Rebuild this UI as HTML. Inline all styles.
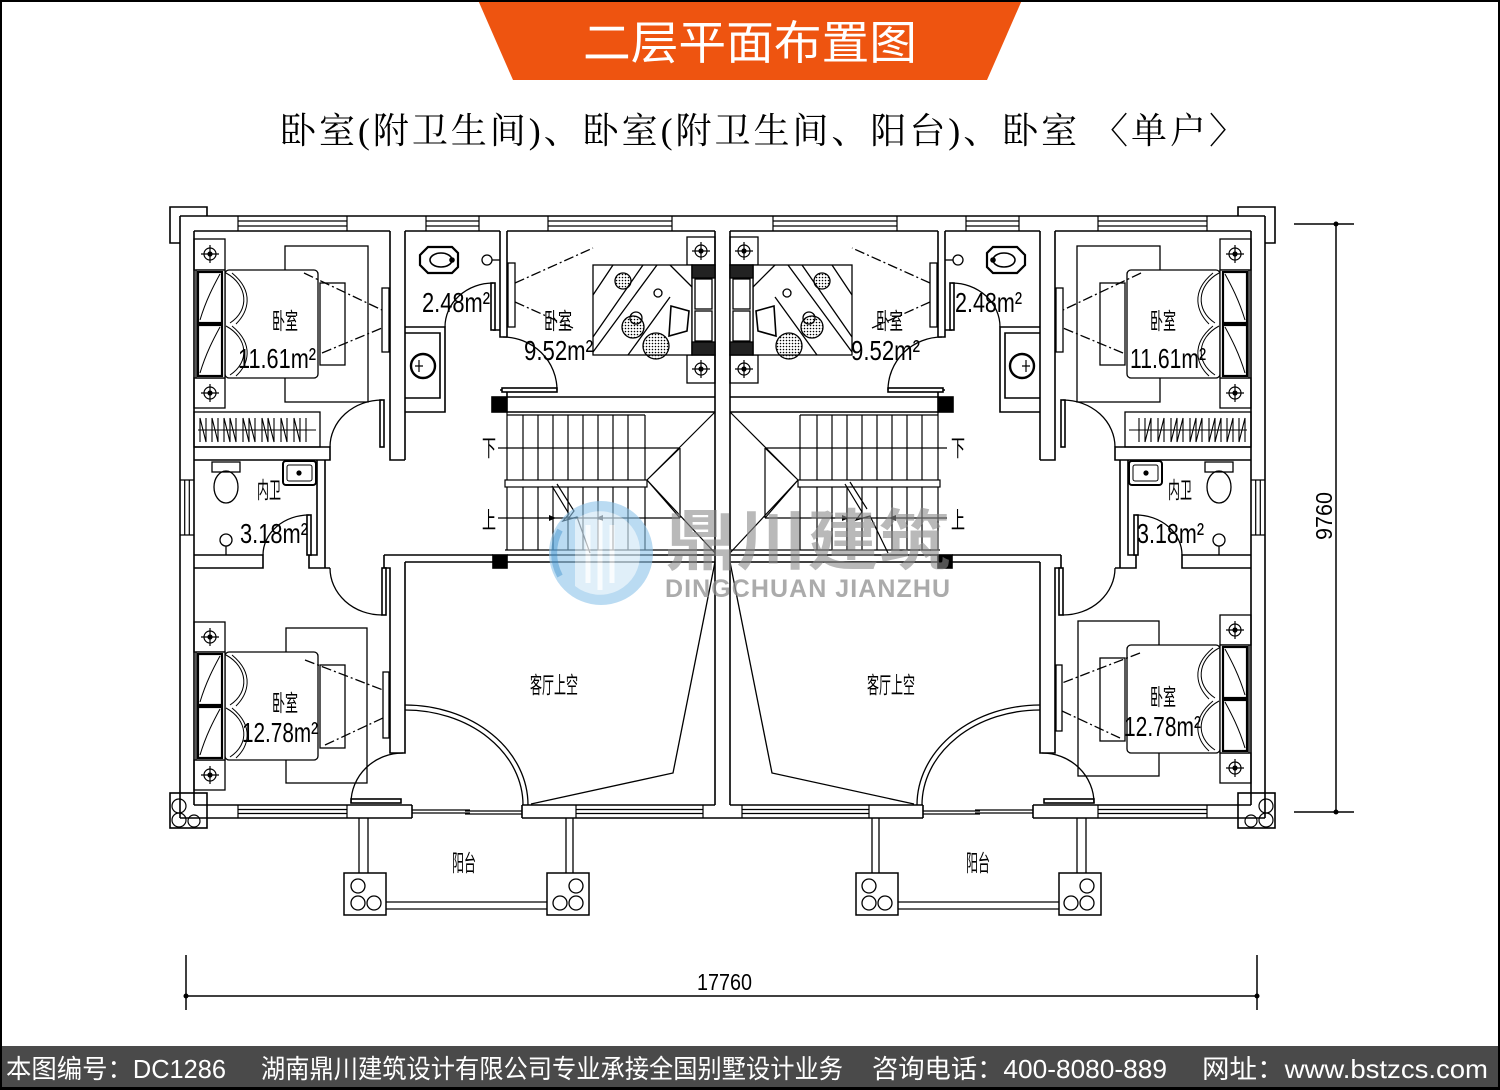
<!DOCTYPE html>
<html><head><meta charset="utf-8">
<style>
html,body{margin:0;padding:0;background:#fff;}
svg{display:block;}
</style></head>
<body>
<svg width="1500" height="1090" viewBox="0 0 1500 1090" xmlns="http://www.w3.org/2000/svg">
<defs>
<pattern id="dots" width="3" height="3" patternUnits="userSpaceOnUse"><circle cx="1.5" cy="1.5" r="0.8" fill="#000"/></pattern>
<g id="tg" fill="none" stroke="#000" stroke-width="1.2"><circle r="6"/><circle r="2" fill="#000"/><path d="M-9,0H9M0,-9V9"/></g>
</defs>
<rect width="1500" height="1090" fill="#fff"/>

<!-- banner -->
<polygon points="478,0 1022,0 987,80 513,80" fill="#ee5410"/>
<text x="750" y="59" font-size="46" fill="#fff" text-anchor="middle" textLength="334" lengthAdjust="spacingAndGlyphs" font-family="'Liberation Sans','Noto Sans CJK SC',sans-serif">二层平面布置图</text>
<text x="280" y="143" font-size="36" fill="#000" textLength="965" lengthAdjust="spacing" font-family="'Liberation Serif','Noto Serif CJK SC',serif">卧室(附卫生间)、卧室(附卫生间、阳台)、卧室 〈单户〉</text>

<!-- LEFT UNIT -->
<g id="L" fill="none" stroke="#000" stroke-width="1.6">
 <path d="M180,243H170V207H207V216"/>
 <rect x="170" y="793" width="37" height="35" fill="#fff"/>
 <circle cx="179" cy="806" r="7" stroke-width="1.2"/><circle cx="179" cy="820" r="7" stroke-width="1.2"/><circle cx="194" cy="821" r="6" stroke-width="1.2"/>
 <path d="M180,216H722.5M180,216V818M180,818H412M522,818H722.5"/>
 <path d="M194,231H390M405,231H500M507,231H715M194,231V805M194,805H412M522,805H715M412,805V818M522,805V818M715,231V805"/>
 <path stroke-width="1.2" d="M238,216V231M347,216V231M238,221H347M238,226H347M426,216V231M479,216V231M426,221H479M426,226H479M548,216V231M672,216V231M548,221H672M548,226H672M238,805V818M347,805V818M238,809.5H347M238,813.5H347M576,805V818M703,805V818M576,809.5H703M576,813.5H703M180,480H194M180,535H194M184.7,480V535M189.3,480V535"/>
 <path stroke-width="1.2" d="M412,810H470M412,813H470M465,811H522M465,814H522"/>
 <!-- interior walls -->
 <path d="M390,231V460H405M405,231V460"/>
 <path d="M194,447H330V460H194"/>
 <path d="M405,327H445V412H405M405,333H440V398H405"/>
 <path d="M493,330H500M500,231V337H507M507,231V337M500,390H507V397"/>
 <path d="M507,397H715M507,412H715"/>
 <rect x="492" y="397" width="15" height="15" fill="#000"/>
 <rect x="493" y="555" width="14" height="13" fill="#000"/>
 <path d="M317,460V555H309V568H330M325,460V568M194,555H263V568H194"/>
 <path d="M384,555V568H390V753H405V562M384,555H493M405,562H493M507,555H715M507,562H715"/>
 <!-- stair -->
 <g stroke-width="1.2">
  <path d="M507,412V550M523,415V550M538,415V550M553,415V550M568,415V550M583,415V550M598,415V550M613,415V550M628,415V550M645,415V550"/>
  <path d="M507,415H645M505,550H715"/>
  <rect x="505" y="480" width="142" height="7" fill="#fff"/>
  <path d="M498,448H680M498,518H680"/>
  <path d="M715,412L647,480L715,553M680,448L647,480L680,518M680,448V518"/>
 </g>
 <!-- void & doors -->
 <path stroke-width="1.3" d="M715,562L673,773L531,804"/>
 <path stroke-width="1.3" d="M405,705A123,100 0 0 1 528,805M405,710A118,95 0 0 1 523,805"/>
 <rect x="380" y="400" width="4" height="47" fill="#fff"/>
 <path stroke-width="1.3" d="M382,400A52,47 0 0 0 330,447"/>
 <rect x="491" y="283" width="4" height="47" fill="#fff"/>
 <path stroke-width="1.3" d="M493,283A48,44 0 0 0 445,327"/>
 <rect x="502" y="388" width="55" height="4" fill="#fff"/>
 <path stroke-width="1.3" d="M503,337A54,53 0 0 1 557,390"/>
 <rect x="307" y="515" width="4" height="40" fill="#fff"/>
 <path stroke-width="1.3" d="M309,515A46,40 0 0 0 263,555"/>
 <rect x="382" y="568" width="4" height="47" fill="#fff"/>
 <path stroke-width="1.3" d="M330,568A52,47 0 0 0 382,615"/>
 <rect x="351" y="799" width="50" height="4" fill="#fff"/>
 <path stroke-width="1.3" d="M403,753A52,50 0 0 0 351,803"/>
 <!-- bedroom 1 furniture -->
 <g stroke-width="1.3">
  <rect x="194" y="239" width="31" height="31"/>
  <rect x="194" y="378" width="31" height="30"/>
  <rect x="285" y="246" width="83" height="156"/>
  <rect x="320" y="283" width="25" height="82"/>
  <rect x="225" y="270" width="93" height="108" rx="4" fill="#fff"/>
  <rect x="196" y="270" width="29" height="108" fill="#fff"/>
  <rect x="198" y="272" width="24" height="51" stroke-width="2.2"/>
  <rect x="198" y="325" width="24" height="51" stroke-width="2.2"/>
  <path stroke-width="1" d="M226,273C248,285 250,310 230,323M232,273C255,292 248,312 236,324M226,326C248,338 250,362 230,375M232,326C255,345 248,365 236,376M200,320C206,300 214,285 220,274M200,373C206,353 214,338 220,327"/>
  <rect x="382" y="288" width="7" height="64" fill="#fff"/>
  <path stroke-dasharray="10 3 2 3" d="M304,273L382,310M322,353L382,328"/>
  <rect x="194" y="412" width="126" height="35"/>
  <path stroke-width="1.1" d="M198,430H316M200,442V418L206,442V418M212,442V418L218,442V418M224,442V418L230,442V418L236,442V418M243,442V418L249,442V418L255,442V418M262,442V418L268,442V418L274,442V418M281,442V418L287,442V418M294,442V418L300,442V418M306,442V418"/>
 </g>
 <use href="#tg" x="210" y="254"/><use href="#tg" x="210" y="393"/>
 <!-- bedroom 2 furniture -->
 <g stroke-width="1.3">
  <rect x="687" y="237" width="28" height="28"/>
  <rect x="687" y="355" width="28" height="28"/>
  <rect x="593" y="265" width="99" height="90" fill="#fff"/>
  <path d="M593,295L613,265M593,337L643,265M593,352L657,265M628,355L670,297M670,265L692,287"/>
  <circle cx="623" cy="281" r="8" fill="url(#dots)"/>
  <circle cx="658" cy="293" r="4"/>
  <circle cx="633" cy="327" r="11" fill="url(#dots)"/>
  <circle cx="636" cy="318" r="6"/>
  <circle cx="656" cy="346" r="13" fill="url(#dots)"/>
  <polygon points="671,306 689,311 687,331 669,336" fill="#fff" stroke-width="1.6"/>
  <rect x="692" y="265" width="23" height="90" fill="#fff"/>
  <rect x="692" y="265" width="23" height="13" fill="#222"/>
  <rect x="692" y="342" width="23" height="13" fill="#222"/>
  <rect x="695" y="279" width="17" height="30"/>
  <rect x="695" y="311" width="17" height="30"/>
  <rect x="508" y="263" width="7" height="64" fill="#fff"/>
  <path stroke-dasharray="10 3 2 3" d="M515,283L593,248M515,302L573,328"/>
 </g>
 <use href="#tg" x="701" y="251"/><use href="#tg" x="701" y="369"/>
 <!-- bathrooms -->
 <polygon points="420,255 428,247 452,247 458,253 458,267 452,273 428,273 420,265" stroke-width="2.2"/>
 <ellipse cx="441" cy="260" rx="11" ry="7" stroke-width="1.6"/>
 <circle cx="452" cy="260" r="2" fill="#000"/>
 <circle cx="487" cy="260" r="5" stroke-width="1.3"/><path d="M492,260H500" stroke-width="1.3"/>
 <circle cx="423" cy="366" r="12" stroke-width="2.4"/><path d="M415,366H423M419,360V372" stroke-width="1.2"/>
 <rect x="212" y="462" width="28" height="10" stroke-width="1.3"/>
 <ellipse cx="226" cy="487" rx="12" ry="16" stroke-width="1.3"/>
 <rect x="283" y="461" width="33" height="24" rx="3" stroke-width="2"/>
 <rect x="287" y="465" width="25" height="16" rx="2" stroke-width="1"/>
 <circle cx="299" cy="473" r="1.8" fill="#000"/>
 <circle cx="226" cy="540" r="6" stroke-width="1.3"/><path d="M226,546V555" stroke-width="1.3"/>
 <!-- balcony -->
 <path stroke-width="1.3" d="M359,818V873M368,818V873M566,818V873M573,818V873M386,902H547M386,909H547"/>
 <rect x="344" y="873" width="42" height="42" stroke-width="1.5"/>
 <rect x="547" y="873" width="42" height="42" stroke-width="1.5"/>
 <g stroke-width="1.3"><circle cx="358" cy="886" r="7"/><circle cx="358" cy="903" r="7"/><circle cx="374" cy="903" r="7"/>
 <circle cx="576" cy="886" r="7"/><circle cx="576" cy="903" r="7"/><circle cx="560" cy="903" r="7"/></g>
</g>
<use href="#L" transform="matrix(-1,0,0,1,1445,0)"/>

<!-- bedroom 3 furniture (separate so right side can shift) -->
<g id="B3" fill="none" stroke="#000" stroke-width="1.3">
  <rect x="194" y="622" width="31" height="30"/>
  <rect x="194" y="760" width="31" height="30"/>
  <rect x="286" y="628" width="81" height="155"/>
  <rect x="320" y="665" width="25" height="83"/>
  <rect x="225" y="652" width="93" height="108" rx="4" fill="#fff"/>
  <rect x="196" y="652" width="29" height="108" fill="#fff"/>
  <rect x="198" y="654" width="24" height="51" stroke-width="2.2"/>
  <rect x="198" y="707" width="24" height="51" stroke-width="2.2"/>
  <path stroke-width="1" d="M226,655C248,667 250,692 230,705M232,655C255,674 248,694 236,706M226,708C248,720 250,744 230,757M232,708C255,727 248,747 236,758M200,702C206,682 214,667 220,656M200,755C206,735 214,720 220,709"/>
  <rect x="383" y="672" width="6" height="66" fill="#fff"/>
  <path stroke-dasharray="10 3 2 3" d="M305,660L383,690M325,745L383,718"/>
  <use href="#tg" x="210" y="637"/><use href="#tg" x="210" y="775"/>
</g>
<use href="#B3" transform="matrix(-1,0,0,1,1445,-7)"/>

<!-- handrail breaks -->
<g fill="none" stroke="#000" stroke-width="1.2">
 <path d="M552,486L569,514L563,521L577,517L590,553M557,484L574,511L568,519"/>
 <path d="M845,484L862,512L856,520L870,516L888,553M850,482L867,509"/>
</g>
<g fill="#000"><path d="M556,518l-7,-3v6z"/><path d="M596,518l7,-3v6z"/><path d="M849,518l-7,-3v6z"/><path d="M889,518l7,-3v6z"/></g>

<!-- dimensions -->
<g stroke="#000" stroke-width="1.5" fill="none">
 <path d="M186,996H1257M186,955V1010M1257,955V1010"/>
 <path d="M1336,224V812M1294,224H1354M1294,812H1354"/>
</g>
<g fill="#000"><circle cx="186" cy="996" r="2.5"/><circle cx="1257" cy="996" r="2.5"/><circle cx="1336" cy="224" r="2.5"/><circle cx="1336" cy="812" r="2.5"/></g>
<g font-family="'Liberation Sans','Noto Sans CJK SC',sans-serif" fill="#000">
 <text x="697" y="990" font-size="23" textLength="55" lengthAdjust="spacingAndGlyphs">17760</text>
 <text transform="translate(1332,516) rotate(-90)" x="0" y="0" font-size="23" text-anchor="middle" textLength="48" lengthAdjust="spacingAndGlyphs">9760</text>

 <!-- area labels -->
 <g font-size="28">
  <text x="238" y="368" textLength="78" lengthAdjust="spacingAndGlyphs">11.61m²</text>
  <text x="422" y="312" textLength="68" lengthAdjust="spacingAndGlyphs">2.48m²</text>
  <text x="524" y="360" textLength="69" lengthAdjust="spacingAndGlyphs">9.52m²</text>
  <text x="240" y="543" textLength="68" lengthAdjust="spacingAndGlyphs">3.18m²</text>
  <text x="242" y="742" textLength="76" lengthAdjust="spacingAndGlyphs">12.78m²</text>
  <text x="851" y="360" textLength="69" lengthAdjust="spacingAndGlyphs">9.52m²</text>
  <text x="955" y="312" textLength="67" lengthAdjust="spacingAndGlyphs">2.48m²</text>
  <text x="1130" y="368" textLength="76" lengthAdjust="spacingAndGlyphs">11.61m²</text>
  <text x="1137" y="543" textLength="67" lengthAdjust="spacingAndGlyphs">3.18m²</text>
  <text x="1124" y="736" textLength="77" lengthAdjust="spacingAndGlyphs">12.78m²</text>
 </g>
 <g font-size="23">
  <text x="272" y="329" textLength="26" lengthAdjust="spacingAndGlyphs">卧室</text>
  <text x="544" y="329" textLength="28" lengthAdjust="spacingAndGlyphs">卧室</text>
  <text x="272" y="711" textLength="26" lengthAdjust="spacingAndGlyphs">卧室</text>
  <text x="876" y="329" textLength="27" lengthAdjust="spacingAndGlyphs">卧室</text>
  <text x="1150" y="329" textLength="26" lengthAdjust="spacingAndGlyphs">卧室</text>
  <text x="1150" y="705" textLength="26" lengthAdjust="spacingAndGlyphs">卧室</text>
  <text x="257" y="498" textLength="24" lengthAdjust="spacingAndGlyphs">内卫</text>
  <text x="1168" y="498" textLength="24" lengthAdjust="spacingAndGlyphs">内卫</text>
  <text x="530" y="693" textLength="48" lengthAdjust="spacingAndGlyphs">客厅上空</text>
  <text x="867" y="693" textLength="48" lengthAdjust="spacingAndGlyphs">客厅上空</text>
  <text x="452" y="871" textLength="24" lengthAdjust="spacingAndGlyphs">阳台</text>
  <text x="966" y="871" textLength="24" lengthAdjust="spacingAndGlyphs">阳台</text>
  <text x="482" y="456" textLength="14" lengthAdjust="spacingAndGlyphs">下</text>
  <text x="482" y="528" textLength="14" lengthAdjust="spacingAndGlyphs">上</text>
  <text x="951" y="456" textLength="14" lengthAdjust="spacingAndGlyphs">下</text>
  <text x="951" y="528" textLength="14" lengthAdjust="spacingAndGlyphs">上</text>
 </g>
</g>

<!-- watermark -->
<g opacity="0.75">
 <circle cx="601" cy="553" r="52" fill="#8cc3e8" fill-opacity="0.8"/>
 <path d="M575,520 A40,40 0 0 1 640,553 A40,40 0 0 1 575,586 Z" fill="#fff" fill-opacity="0.55"/>
 <path d="M588,525V583M600,520V590M612,525V583" stroke="#fff" stroke-width="5" stroke-opacity="0.8"/>
 <path d="M560,530 A48,48 0 0 0 560,576" stroke="#5aa3d8" stroke-width="6" fill="none"/>
</g>
<text x="665" y="564" font-size="66" font-weight="bold" fill="#8a8a8a" fill-opacity="0.6" textLength="285" lengthAdjust="spacingAndGlyphs" font-family="'Liberation Sans','Noto Sans CJK SC',sans-serif">鼎川建筑</text>
<text x="665" y="597" font-size="25" font-weight="bold" fill="#8f8f8f" fill-opacity="0.75" textLength="285" lengthAdjust="spacing" font-family="'Liberation Sans',sans-serif">DINGCHUAN JIANZHU</text>

<!-- footer -->
<rect x="0" y="1046" width="1500" height="44" fill="#4a4a4a"/>
<rect x="0" y="1087" width="1500" height="3" fill="#000"/>
<g font-family="'Liberation Sans','Noto Sans CJK SC',sans-serif" font-size="26" fill="#fff">
 <text x="6" y="1078" textLength="220" lengthAdjust="spacingAndGlyphs">本图编号：DC1286</text>
 <text x="261" y="1078" textLength="582" lengthAdjust="spacingAndGlyphs">湖南鼎川建筑设计有限公司专业承接全国别墅设计业务</text>
 <text x="872" y="1078" textLength="295" lengthAdjust="spacingAndGlyphs">咨询电话：400-8080-889</text>
 <text x="1202" y="1078" textLength="286" lengthAdjust="spacingAndGlyphs">网址：www.bstzcs.com</text>
</g>
<rect x="1" y="1" width="1498" height="1088" fill="none" stroke="#000" stroke-width="2"/>
</svg>
</body></html>
